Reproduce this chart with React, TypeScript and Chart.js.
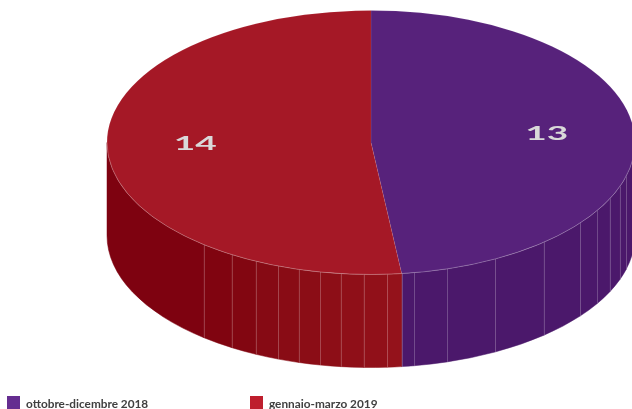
import { useEffect, useRef } from "react";
import { Chart, ArcElement, DoughnutController, PieController } from "chart.js";

Chart.register(ArcElement, DoughnutController, PieController);

const quarters = ["ottobre-dicembre 2018", "gennaio-marzo 2019"];
const counts = [13, 14];
const topColors = ["#57227b", "#a51826"];
const legendColors = ["#652d90", "#be1e2d"];
const legendX = [7, 250];
const purpleWall = "#4b186b";
const redWallShades = ["#7e0210", "#800410", "#820611", "#860a14", "#890c15", "#8b0d16", "#8d0e17", "#8f0f18", "#911019", "#94121b"];
// Facet seams on the side wall, as horizontal offsets relative to the radius.
const wallSeams = [0.989, 0.966, 0.943, 0.905, 0.856, 0.792, 0.655, 0.47, 0.288, 0.163, 0.061, -0.027, -0.114, -0.193, -0.273, -0.352, -0.436, -0.527, -0.633];

const TILT = 0.5;
const DEPTH = 93;

function facetPath(ctx: CanvasRenderingContext2D, cx: number, cy: number, rx: number, ry: number, a: number, b: number) {
  ctx.beginPath();
  ctx.ellipse(cx, cy, rx, ry, 0, a, b);
  ctx.ellipse(cx, cy + DEPTH, rx, ry, 0, b, a, true);
  ctx.closePath();
}

const tiltedPie = {
  id: "tiltedPie",
  beforeDatasetsDraw(chart: Chart) {
    const ctx = chart.ctx;
    const arcs = chart.getDatasetMeta(0).data as any[];
    const { x, outerRadius: rx } = arcs[0];
    const cy = arcs[0].y;
    const ry = rx * TILT;
    const seams = wallSeams.map((f) => Math.acos(f));

    ctx.save();
    arcs.forEach((arc, i) => {
      const from = Math.max(0, arc.startAngle);
      const to = Math.min(Math.PI, arc.endAngle);
      const stops = [from, ...seams.filter((t) => t > from && t < to), to].sort((p, q) => p - q);
      for (let k = 0; k < stops.length - 1; k++) {
        const color = i === 0 ? purpleWall : redWallShades[stops.length - 2 - k];
        facetPath(ctx, x, cy, rx, ry, stops[k], stops[k + 1]);
        ctx.fillStyle = color;
        ctx.strokeStyle = color;
        ctx.lineWidth = 0.5;
        ctx.fill();
        ctx.stroke();
      }
      ctx.strokeStyle = "rgba(255,255,255,0.22)";
      ctx.lineWidth = 1;
      stops.slice(i === 0 ? 1 : 0, -1).forEach((t) => {
        const px = Math.round(x + rx * Math.cos(t)) + 0.5;
        const py = cy + ry * Math.sin(t);
        ctx.beginPath();
        ctx.moveTo(px, py);
        ctx.lineTo(px, py + DEPTH);
        ctx.stroke();
      });
    });
    ctx.restore();

    // The arcs themselves are drawn flattened about the pie centre.
    ctx.save();
    ctx.translate(0, cy);
    ctx.scale(1, TILT);
    ctx.translate(0, -cy);
  },
  afterDatasetsDraw(chart: Chart) {
    const ctx = chart.ctx;
    ctx.restore();

    const arcs = chart.getDatasetMeta(0).data as any[];
    const { x, y, outerRadius: rx } = arcs[0];
    const ry = rx * TILT;

    ctx.save();
    ctx.strokeStyle = "rgba(255,255,255,0.25)";
    ctx.lineWidth = 0.8;
    ctx.beginPath();
    ctx.ellipse(x, y, rx, ry, 0, 0, Math.PI);
    ctx.stroke();

    // Value labels, widened to follow the perspective of the disc.
    arcs.forEach((arc, i) => {
      const mid = (arc.startAngle + arc.endAngle) / 2;
      const lx = x + rx * 0.667 * Math.cos(mid);
      const ly = y + ry * 0.667 * Math.sin(mid) - 3.5;
      ctx.save();
      ctx.translate(lx, ly);
      ctx.scale(1.95, 1);
      ctx.fillStyle = "#d9d9d9";
      ctx.font = "bold 19px Lato";
      ctx.textAlign = "center";
      ctx.textBaseline = "middle";
      ctx.fillText(String(counts[i]), 0, 0);
      ctx.restore();
    });
    ctx.restore();
  },
  afterDraw(chart: Chart) {
    const ctx = chart.ctx;
    ctx.save();
    (chart.data.labels as string[]).forEach((label, i) => {
      ctx.fillStyle = legendColors[i];
      ctx.fillRect(legendX[i], 396, 13, 13);
      ctx.fillStyle = "#404040";
      ctx.font = "bold 11.8px Lato";
      ctx.textAlign = "left";
      ctx.textBaseline = "alphabetic";
      ctx.fillText(label, legendX[i] + 19, 408);
    });
    ctx.restore();
  },
};

export default function App() {
  const canvasRef = useRef<HTMLCanvasElement>(null);

  useEffect(() => {
    document.body.style.margin = "0";
    const chart = new Chart(canvasRef.current!, {
      type: "pie",
      data: {
        labels: quarters,
        datasets: [
          {
            data: counts,
            backgroundColor: topColors,
            borderColor: "rgba(255,255,255,0.12)",
            borderWidth: 0.8,
            clip: false,
          } as any,
        ],
      },
      options: {
        responsive: false,
        animation: false,
        radius: 264,
        layout: { padding: { left: 110, bottom: 124 } },
        plugins: { legend: { display: false }, tooltip: { enabled: false } },
      } as any,
      plugins: [tiltedPie],
    });
    return () => chart.destroy();
  }, []);

  return <canvas ref={canvasRef} width={632} height={409} style={{ display: "block" }} />;
}
